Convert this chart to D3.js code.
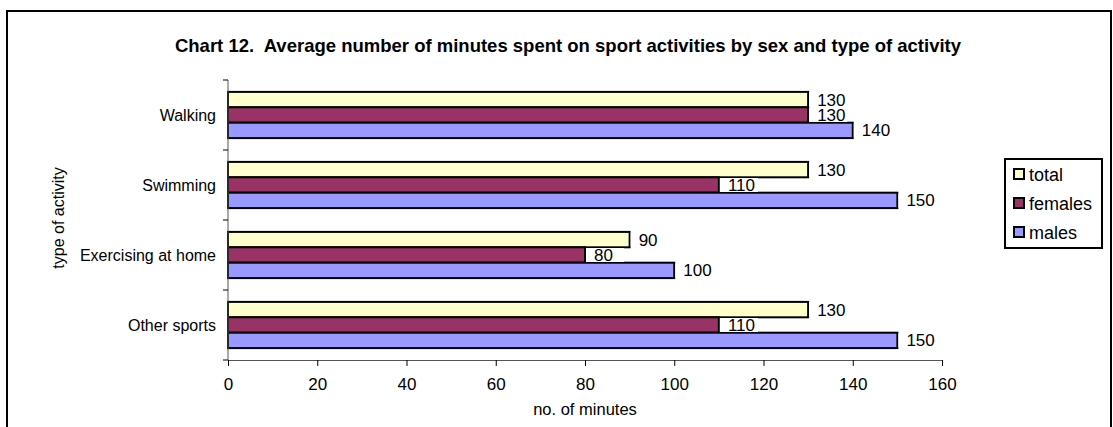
<!DOCTYPE html>
<html><head><meta charset="utf-8">
<script src="https://cdn.jsdelivr.net/npm/d3@7"></script>
<style>
body{margin:0;background:#fff;}
svg{display:block;font-family:"Liberation Sans",Arial,sans-serif;}
</style></head><body>
<svg id="c" width="1113" height="427"></svg>
<script>
const categories = ["Walking", "Swimming", "Exercising at home", "Other sports"];
const seriesNames = ["total", "females", "males"];
const totalValues = [130, 130, 90, 130];
const femalesValues = [130, 110, 80, 110];
const malesValues = [140, 150, 100, 150];
const xTicks = [0, 20, 40, 60, 80, 100, 120, 140, 160];
const colors = ["#FFFFCC", "#993366", "#9999FF"];
const title = "Chart 12.  Average number of minutes spent on sport activities by sex and type of activity";

const values = [totalValues, femalesValues, malesValues];
const svg = d3.select("#c");

// frame
svg.append("rect").attr("x", 7).attr("y", 11).attr("width", 1104).attr("height", 430)
  .attr("fill", "none").attr("stroke", "#000").attr("stroke-width", 2);

const x = d3.scaleLinear().domain([0, 160]).range([228, 942]);
const y = d3.scaleBand().domain(categories).range([80, 360]).paddingInner(0.34).paddingOuter(0.17);
const yFull = d3.scaleBand().domain(categories).range([80, 360]);
const ys = d3.scaleBand().domain(seriesNames).range([0, y.bandwidth()]);

// title
svg.append("text").attr("x", 568).attr("y", 52).attr("text-anchor", "middle")
  .attr("font-weight", "bold").attr("font-size", 18.5).style("white-space", "pre")
  .attr("xml:space", "preserve").text(title);

// bars
const groups = svg.append("g").selectAll("g").data(categories).join("g")
  .attr("transform", d => `translate(0,${y(d)})`);
seriesNames.forEach((s, si) => {
  groups.append("rect")
    .attr("x", x(0))
    .attr("y", ys(s))
    .attr("width", (d, i) => x(values[si][categories.indexOf(d)]) - x(0))
    .attr("height", ys.bandwidth())
    .attr("fill", colors[si]).attr("stroke", "#000").attr("stroke-width", 2);
});
// value labels
seriesNames.forEach((s, si) => {
  groups.each(function(d) {
    const v = values[si][categories.indexOf(d)];
    const g = d3.select(this);
    const tx = x(v) + 9;
    const cy = ys(s) + ys.bandwidth() / 2;
    g.append("rect").attr("x", x(v) + 1).attr("y", cy - 7).attr("width", 38).attr("height", 14).attr("fill", "#fff");
    g.append("text").attr("x", tx).attr("y", cy + 6).attr("font-size", 17).text(v);
  });
});

// x axis
const xAxis = svg.append("g").attr("transform", "translate(0,360)")
  .call(d3.axisBottom(x).tickValues(xTicks).tickSize(6).tickPadding(12).tickSizeOuter(0));
xAxis.select(".domain").attr("stroke", "#555");
xAxis.selectAll(".tick line").attr("stroke", "#000");
xAxis.selectAll("text").attr("font-size", 17).attr("font-family", "Liberation Sans, Arial, sans-serif").attr("fill", "#000");

// y axis
const yAxis = svg.append("g").attr("transform", "translate(228,0)");
yAxis.append("line").attr("x1", 0).attr("x2", 0).attr("y1", 80).attr("y2", 360).attr("stroke", "#555");
yAxis.selectAll("line.t").data(categories.concat(["end"])).join("line").attr("class", "t")
  .attr("x1", -5).attr("x2", 0)
  .attr("y1", (d, i) => i < categories.length ? yFull(d) : 360)
  .attr("y2", (d, i) => i < categories.length ? yFull(d) : 360)
  .attr("stroke", "#000");
yAxis.selectAll("text").data(categories).join("text")
  .attr("x", -12).attr("y", d => yFull(d) + yFull.bandwidth() / 2 + 6)
  .attr("text-anchor", "end").attr("font-size", 16).text(d => d);

// axis titles
svg.append("text").attr("x", 585).attr("y", 415).attr("text-anchor", "middle").attr("font-size", 16.5).text("no. of minutes");
svg.append("text").attr("transform", "translate(64,218) rotate(-90)").attr("text-anchor", "middle")
  .attr("font-size", 16).text("type of activity");

// legend
const lg = svg.append("g");
lg.append("rect").attr("x", 1005).attr("y", 159).attr("width", 97).attr("height", 89)
  .attr("fill", "#fff").attr("stroke", "#000").attr("stroke-width", 2);
seriesNames.forEach((s, i) => {
  const cy = 174 + i * 29;
  lg.append("rect").attr("x", 1014).attr("y", cy - 5).attr("width", 10).attr("height", 10)
    .attr("fill", colors[i]).attr("stroke", "#000").attr("stroke-width", 2);
  lg.append("text").attr("x", 1029).attr("y", cy + 7).attr("font-size", 18).text(s);
});
</script>
</body></html>
